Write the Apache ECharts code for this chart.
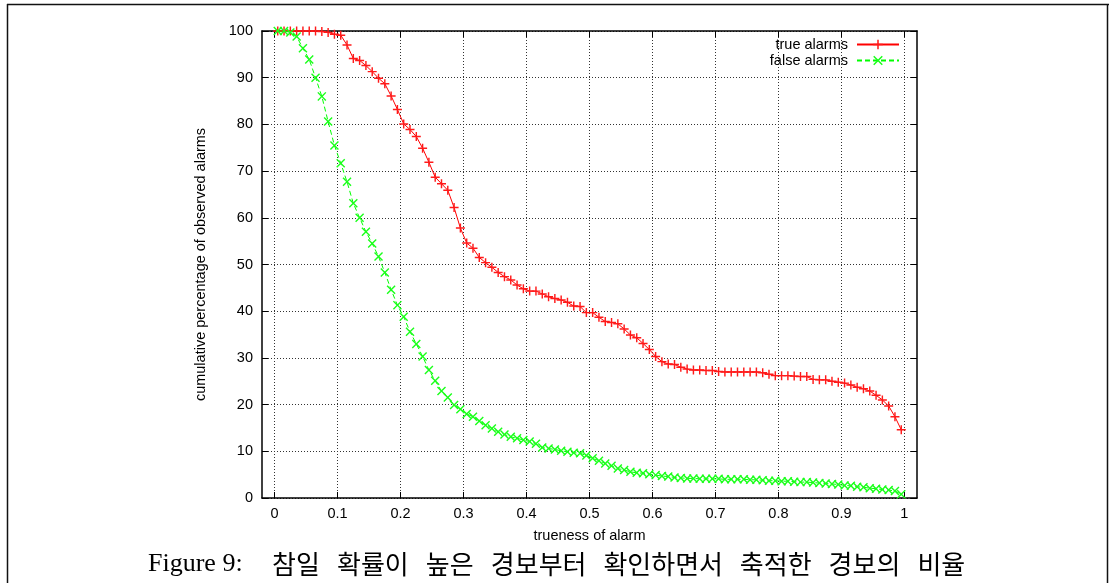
<!DOCTYPE html>
<html>
<head>
<meta charset="utf-8">
<script src="https://cdn.jsdelivr.net/npm/echarts@6/dist/echarts.min.js"></script>
<style>
html,body{margin:0;padding:0;background:#fff;}
#chart{width:1109px;height:583px;}
</style>
</head>
<body>
<div id="chart"></div>
<script>
// x positions of the sampled points (trueness of alarm)
const xs = [0.005,0.015,0.025,0.035,0.045,0.055,0.065,0.075,0.085,0.095,
            0.105,0.115,0.125,0.135,0.145,0.155,0.165,0.175,0.185,0.195,
            0.205,0.215,0.225,0.235,0.245,0.255,0.265,0.275,0.285,0.295,
            0.305,0.315,0.325,0.335,0.345,0.355,0.365,0.375,0.385,0.395,
            0.405,0.415,0.425,0.435,0.445,0.455,0.465,0.475,0.485,0.495,
            0.505,0.515,0.525,0.535,0.545,0.555,0.565,0.575,0.585,0.595,
            0.605,0.615,0.625,0.635,0.645,0.655,0.665,0.675,0.685,0.695,
            0.705,0.715,0.725,0.735,0.745,0.755,0.765,0.775,0.785,0.795,
            0.805,0.815,0.825,0.835,0.845,0.855,0.865,0.875,0.885,0.895,
            0.905,0.915,0.925,0.935,0.945,0.955,0.965,0.975,0.985,0.995];

const trueAlarms = [100,100,100,100,100,100,100,99.9,99.7,99.3,
                    99.1,97.0,94.1,93.7,92.6,91.3,89.9,88.7,86.1,83.2,
                    80.1,78.9,77.4,74.9,71.9,68.7,67.3,65.9,62.2,57.8,
                    54.6,53.5,51.5,50.4,49.4,48.3,47.4,46.7,45.6,44.8,
                    44.3,44.3,43.7,43.1,42.7,42.4,41.9,41.1,41.0,39.7,
                    39.7,38.7,37.8,37.6,37.3,36.2,34.9,34.3,33.1,31.8,
                    30.3,29.2,28.7,28.6,28.0,27.6,27.4,27.4,27.3,27.3,
                    27.1,27.0,27.0,27.0,27.0,27.0,27.0,26.8,26.5,26.2,
                    26.2,26.2,26.1,26.0,26.0,25.4,25.3,25.3,25.0,24.8,
                    24.6,24.2,23.7,23.4,22.9,22.0,21.0,19.7,17.4,14.6];

const falseAlarms = [100,100,99.7,98.8,96.3,93.9,90.0,86.0,80.6,75.5,
                     71.7,67.7,63.1,60.0,57.0,54.5,51.7,48.3,44.6,41.3,
                     38.8,35.6,33.0,30.3,27.4,25.1,22.9,21.5,19.9,19.0,
                     18.0,17.4,16.5,15.6,14.9,14.2,13.6,13.1,12.8,12.4,
                     12.1,11.6,10.8,10.6,10.4,10.1,9.9,9.7,9.6,9.1,
                     8.5,8.0,7.4,6.9,6.3,6.0,5.6,5.4,5.3,5.1,
                     4.9,4.7,4.6,4.4,4.3,4.2,4.2,4.1,4.1,4.1,
                     4.1,4.0,4.0,4.0,4.0,3.9,3.9,3.8,3.7,3.7,
                     3.6,3.6,3.5,3.4,3.4,3.3,3.2,3.1,3.0,2.9,
                     2.7,2.6,2.4,2.3,2.1,2.0,1.8,1.7,1.5,0.8];

const xTicks = [0,0.1,0.2,0.3,0.4,0.5,0.6,0.7,0.8,0.9,1];
const xTickLabels = ['0','0.1','0.2','0.3','0.4','0.5','0.6','0.7','0.8','0.9','1'];
const yTickLabels = ['0','10','20','30','40','50','60','70','80','90','100'];

const seriesNames = ['true alarms','false alarms'];
const xAxisName = 'trueness of alarm';
const yAxisName = 'cumulative percentage of observed alarms';
const captionLabel = 'Figure 9:';
const captionWords = ['참일','확률이','높은','경보부터','확인하면서','축적한','경보의','비율'];

const FONT = '"Liberation Sans", Arial, sans-serif';
const plusSymbol = 'path://M4.2,0H5.8V4.2H10V5.8H5.8V10H4.2V5.8H0V4.2H4.2Z';
const xSymbol = 'path://M0,1.1L1.1,0L5,3.9L8.9,0L10,1.1L6.1,5L10,8.9L8.9,10L5,6.1L1.1,10L0,8.9L3.9,5Z';

function pairs(vals){ return xs.map((x,i)=>[x, vals[i]]); }

// caption layout: Korean words set with wide inter-word spacing (as in the typeset figure)
const CHAR_PITCH = 23.8, WORD_SPACE = 17.4, CAPTION_X = 272, CAPTION_Y = 564;
const captionGraphics = [];
let cx = CAPTION_X;
captionWords.forEach(w => {
  captionGraphics.push({type:'text', silent:true,
    style:{x:cx, y:CAPTION_Y, text:w, font:'26px "Noto Sans CJK KR", sans-serif', fill:'#000', verticalAlign:'middle'}});
  cx += w.length * CHAR_PITCH + WORD_SPACE;
});

const chart = echarts.init(document.getElementById('chart'), null, {renderer:'canvas'});

const gridLine = {show:true, lineStyle:{color:'#333', width:1, type:[1,2]}};

chart.setOption({
  animation:false,
  backgroundColor:'#fff',
  grid:{left:262, right:192, top:31, bottom:85, containLabel:false},
  legend:{
    data:seriesNames,
    orient:'vertical',
    right:209, top:37, padding:0,
    align:'right',
    itemWidth:42, itemHeight:12, itemGap:1,
    textStyle:{fontFamily:FONT, fontSize:14.5, color:'#000', lineHeight:14, padding:[0,4,0,0]}
  },
  xAxis:[{
    type:'value', position:'bottom', min:-0.02, max:1.02,
    name:xAxisName, nameLocation:'middle', nameGap:30,
    nameTextStyle:{fontFamily:FONT, fontSize:14.5, color:'#000'},
    axisLine:{show:true, onZero:false, lineStyle:{color:'#000', width:1.5}},
    axisTick:{show:true, inside:true, length:6, customValues:xTicks, lineStyle:{color:'#000', width:1}},
    axisLabel:{show:true, customValues:xTicks, margin:8, fontFamily:FONT, fontSize:14.5, color:'#000',
      formatter:(v)=>{const i = xTicks.findIndex(t=>Math.abs(t-v)<1e-9); return i>=0 ? xTickLabels[i] : '';}},
    splitLine:gridLine
  },{
    type:'value', position:'top', min:-0.02, max:1.02,
    axisLine:{show:true, onZero:false, lineStyle:{color:'#000', width:1.5}},
    axisTick:{show:true, inside:true, length:6, customValues:xTicks, lineStyle:{color:'#000', width:1}},
    axisLabel:{show:false},
    splitLine:{show:false}
  }],
  yAxis:[{
    type:'value', position:'left', min:0, max:100, interval:10,
    name:yAxisName, nameLocation:'middle', nameGap:54, nameRotate:90,
    nameTextStyle:{fontFamily:FONT, fontSize:14.5, color:'#000'},
    axisLine:{show:true, onZero:false, lineStyle:{color:'#000', width:1.5}},
    axisTick:{show:true, inside:true, length:6, lineStyle:{color:'#000', width:1}},
    axisLabel:{show:true, margin:9, fontFamily:FONT, fontSize:14.5, color:'#000',
      formatter:(v)=>yTickLabels[Math.round(v/10)]},
    splitLine:gridLine
  },{
    type:'value', position:'right', min:0, max:100, interval:10,
    axisLine:{show:true, onZero:false, lineStyle:{color:'#000', width:1.5}},
    axisTick:{show:true, inside:true, length:6, lineStyle:{color:'#000', width:1}},
    axisLabel:{show:false},
    splitLine:{show:false}
  }],
  series:[{
    name:seriesNames[0], type:'line', xAxisIndex:0, yAxisIndex:0,
    data:pairs(trueAlarms),
    symbol:plusSymbol, symbolSize:9, showAllSymbol:true,
    lineStyle:{color:'#ff0000', width:1},
    itemStyle:{color:'#ff1a1a'},
    z:3
  },{
    name:seriesNames[1], type:'line', xAxisIndex:0, yAxisIndex:0,
    data:pairs(falseAlarms),
    symbol:xSymbol, symbolSize:9, showAllSymbol:true,
    lineStyle:{color:'#00ff00', width:1, type:[5,3]},
    itemStyle:{color:'#1aff1a'},
    z:4
  }],
  graphic:[
    {type:'line', silent:true, shape:{x1:7, y1:4.5, x2:1109, y2:4.5}, style:{stroke:'#111', lineWidth:1.5}},
    {type:'line', silent:true, shape:{x1:7.5, y1:4, x2:7.5, y2:583}, style:{stroke:'#111', lineWidth:1.5}},
    {type:'line', silent:true, shape:{x1:1107.5, y1:4, x2:1107.5, y2:583}, style:{stroke:'#111', lineWidth:1.5}},
    {type:'text', silent:true, style:{x:148, y:CAPTION_Y, text:captionLabel, font:'26px "Liberation Serif", serif', fill:'#000', verticalAlign:'middle'}}
  ].concat(captionGraphics)
});
</script>
</body>
</html>
